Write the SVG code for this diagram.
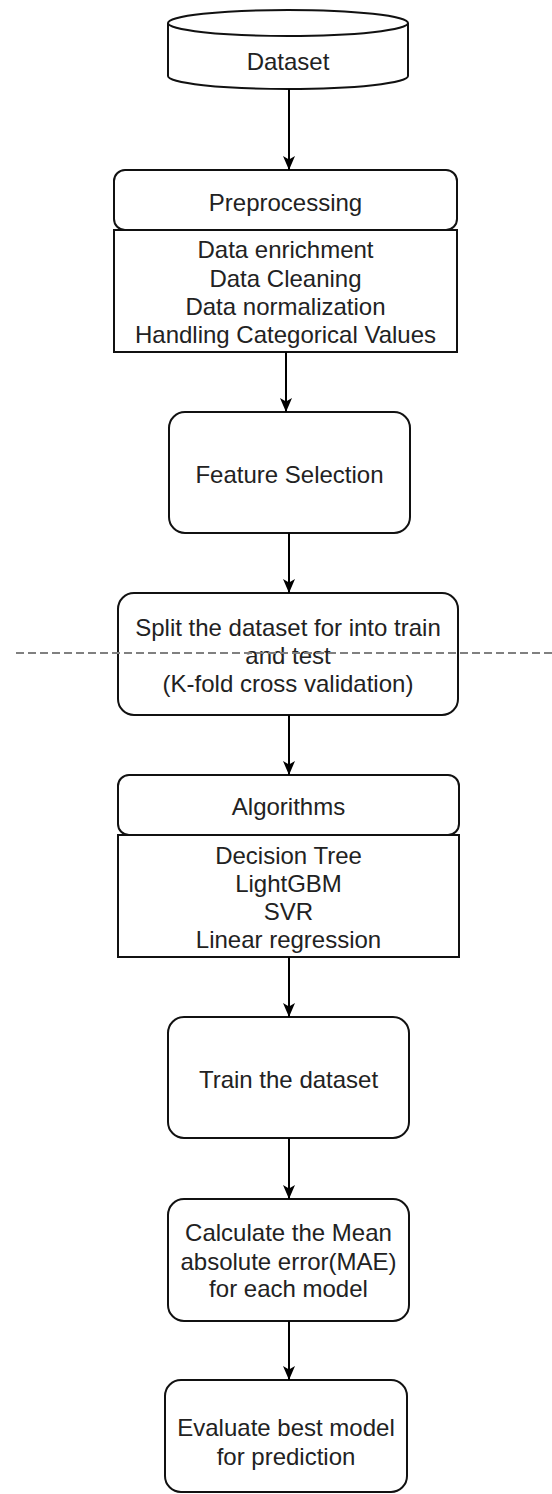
<svg xmlns="http://www.w3.org/2000/svg" width="552" height="1494" viewBox="0 0 552 1494">
  <style>
    .shape { fill: #ffffff; stroke: #111111; stroke-width: 2; }
    .label { font-family: "Liberation Sans", Arial, sans-serif; font-size: 24px; fill: #222222; text-anchor: middle; }
    .edge { stroke: #000000; stroke-width: 2; fill: none; marker-end: url(#arrow); }
    .divider { stroke: #808080; stroke-width: 2; stroke-dasharray: 8 4; fill: none; }
  </style>
  <defs>
    <marker id="arrow" viewBox="0 0 14 14" refX="14" refY="7" markerWidth="14" markerHeight="14" markerUnits="userSpaceOnUse" orient="auto">
      <path d="M0,1 L14,7 L0,13 L3.5,7 z" fill="#000000"/>
    </marker>
  </defs>
  <rect width="552" height="1494" fill="#ffffff"/>

  <!-- Dataset (cylinder) -->
  <g id="dataset">
    <path class="shape" d="M168,23 A120,13 0 0 1 408,23 V76 A120,13 0 0 1 168,76 Z"/>
    <path class="shape" fill="none" d="M168,23 A120,13 0 0 0 408,23"/>
    <text class="label" x="288" y="70">Dataset</text>
  </g>

  <!-- Preprocessing: header and list -->
  <g id="preprocessing">
    <rect class="shape" x="114" y="170" width="343" height="60" rx="11"/>
    <text class="label" x="285.5" y="211">Preprocessing</text>
    <rect class="shape" x="114" y="230" width="343" height="122"/>
    <text class="label" x="285.5" y="258">Data enrichment</text>
    <text class="label" x="285.5" y="286.5">Data Cleaning</text>
    <text class="label" x="285.5" y="315">Data normalization</text>
    <text class="label" x="285.5" y="343">Handling Categorical Values</text>
  </g>

  <!-- Feature Selection -->
  <g id="feature-selection">
    <rect class="shape" x="169" y="412" width="241" height="121" rx="16"/>
    <text class="label" x="289.5" y="483">Feature Selection</text>
  </g>

  <!-- Train/test split -->
  <g id="split">
    <rect class="shape" x="118" y="593" width="340" height="122" rx="16"/>
    <text class="label" x="288" y="636">Split the dataset for into train</text>
    <text class="label" x="288" y="664">and test</text>
    <text class="label" x="288" y="692">(K-fold cross validation)</text>
  </g>

  <!-- Algorithms: header and list -->
  <g id="algorithms">
    <rect class="shape" x="118" y="775" width="341" height="60" rx="11"/>
    <text class="label" x="288.5" y="815">Algorithms</text>
    <rect class="shape" x="118" y="835" width="341" height="122"/>
    <text class="label" x="288.5" y="864">Decision Tree</text>
    <text class="label" x="288.5" y="892">LightGBM</text>
    <text class="label" x="288.5" y="920">SVR</text>
    <text class="label" x="288.5" y="948">Linear regression</text>
  </g>

  <!-- Train the dataset -->
  <g id="train">
    <rect class="shape" x="168" y="1017" width="241" height="121" rx="16"/>
    <text class="label" x="288.5" y="1088">Train the dataset</text>
  </g>

  <!-- MAE calculation -->
  <g id="mae">
    <rect class="shape" x="168" y="1199" width="241" height="122" rx="16"/>
    <text class="label" x="288.5" y="1241">Calculate the Mean</text>
    <text class="label" x="288.5" y="1270">absolute error(MAE)</text>
    <text class="label" x="288.5" y="1297">for each model</text>
  </g>

  <!-- Best model evaluation -->
  <g id="evaluate">
    <rect class="shape" x="165" y="1380" width="242" height="112" rx="16"/>
    <text class="label" x="286" y="1436">Evaluate best model</text>
    <text class="label" x="286" y="1465">for prediction</text>
  </g>

  <!-- Connectors -->
  <g id="connectors">
    <path class="edge" d="M289,89 V170"/>
    <path class="edge" d="M286,352 V412"/>
    <path class="edge" d="M289,533 V593"/>
    <path class="edge" d="M289,715 V775"/>
    <path class="edge" d="M289,957 V1017"/>
    <path class="edge" d="M289,1138 V1199"/>
    <path class="edge" d="M289,1321 V1380"/>
  </g>

  <!-- Dashed separator -->
  <g id="separator">
    <path class="divider" d="M16,653 H552"/>
  </g>
</svg>
